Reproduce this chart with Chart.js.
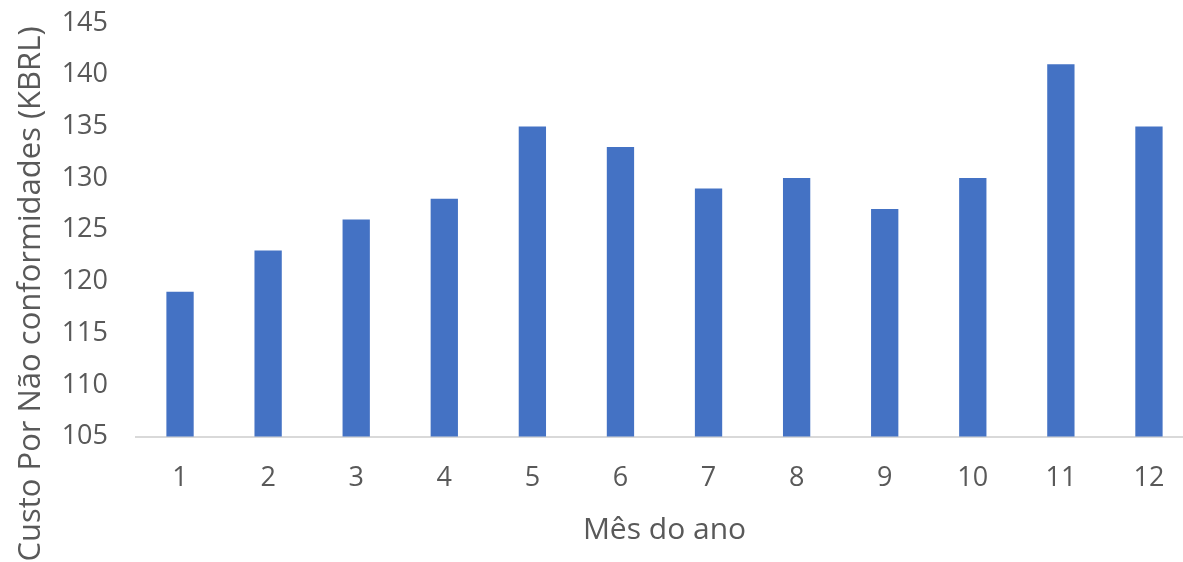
<!DOCTYPE html>
<html>
<head>
<meta charset="utf-8">
<script src="https://cdn.jsdelivr.net/npm/chart.js@4/dist/chart.umd.min.js"></script>
<style>
  html, body { margin: 0; padding: 0; background: #ffffff; overflow: hidden; }
  #wrap { width: 1197px; height: 562px; position: relative; }
</style>
</head>
<body>
<div id="wrap"><canvas id="c"></canvas></div>
<script>
// Monthly non-conformity cost, thousands of BRL
const months = ['1', '2', '3', '4', '5', '6', '7', '8', '9', '10', '11', '12'];
const costKBRL = [119, 123, 126, 128, 135, 133, 129, 130, 127, 130, 141, 135];
const yMin = 105;
const yMax = 145;
const yStep = 5;

const xTitle = 'Mês do ano';
const yTitle = 'Custo Por Não conformidades (KBRL)';

const textColor = '#595959';
const fontFamily = '"Open Sans", "Noto Sans", sans-serif';

// Rotated y-axis title, centred on the whole figure height like the spreadsheet layout
const yTitlePlugin = {
  id: 'yTitle',
  afterDraw(chart) {
    const ctx = chart.ctx;
    ctx.save();
    ctx.translate(31, chart.height / 2 + 13);
    ctx.rotate(-Math.PI / 2);
    ctx.fillStyle = textColor;
    ctx.font = '31px ' + fontFamily;
    ctx.textAlign = 'center';
    ctx.textBaseline = 'middle';
    ctx.fillText(yTitle, 0, 0);
    ctx.restore();
  }
};

new Chart(document.getElementById('c'), {
  type: 'bar',
  data: {
    labels: months,
    datasets: [{
      data: costKBRL,
      backgroundColor: '#4472C4',
      borderWidth: 0,
      barPercentage: 0.31,
      categoryPercentage: 1.0
    }]
  },
  options: {
    responsive: true,
    maintainAspectRatio: false,
    animation: false,
    layout: { padding: { top: 23, right: 4, bottom: 0, left: 0 } },
    plugins: {
      legend: { display: false },
      tooltip: { enabled: false }
    },
    scales: {
      x: {
        grid: { display: false, drawTicks: false },
        border: { display: true, color: '#d9d9d9', width: 2 },
        ticks: {
          color: textColor,
          font: { family: fontFamily, size: 27 },
          padding: 26,
          maxRotation: 0
        },
        title: {
          display: true,
          text: xTitle,
          color: textColor,
          font: { family: fontFamily, size: 30 },
          padding: { top: 0, bottom: 14 }
        },
        afterFit(scale) { scale.height = 125.5; }
      },
      y: {
        min: yMin,
        max: yMax,
        grid: { display: false, drawTicks: false },
        border: { display: false },
        ticks: {
          stepSize: yStep,
          color: textColor,
          font: { family: fontFamily, size: 27 },
          padding: 28
        },
        afterFit(scale) {
          scale.width = 136;
          scale.paddingTop = 0;
          scale.paddingBottom = 0;
        }
      }
    }
  },
  plugins: [yTitlePlugin]
});
</script>
</body>
</html>
